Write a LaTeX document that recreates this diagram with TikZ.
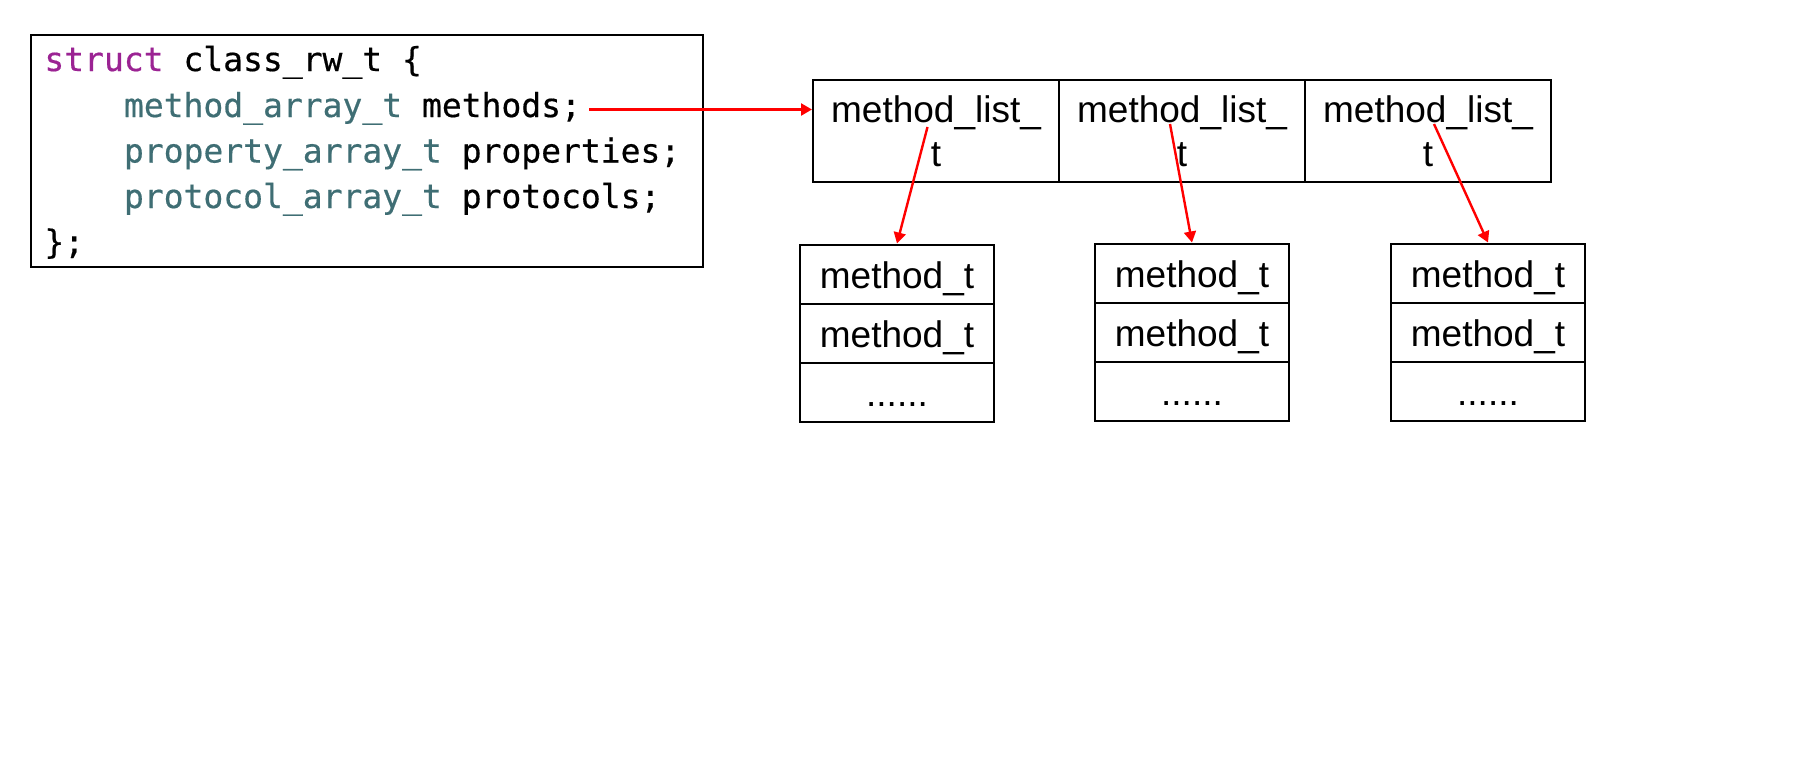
\documentclass[tikz,border=0pt]{standalone}
\usepackage{fontspec}
\setmainfont{Liberation Sans}
\newfontfamily\codefont[FakeBold=0.5]{DejaVu Sans Mono}
\usetikzlibrary{arrows.meta}
\definecolor{kwpurple}{RGB}{155,35,147}
\definecolor{typeteal}{RGB}{63,110,116}
\definecolor{arrowred}{RGB}{255,0,0}
\tikzset{
  codeline/.style={anchor=base west, inner sep=0pt, font=\codefont\fontsize{16.5}{20}\selectfont},
  codebox/.style={draw, line width=1pt, minimum width=336pt, minimum height=116pt, inner sep=0pt},
  listcell/.style={draw, line width=1pt, minimum width=123pt, minimum height=51.25pt, align=center, inner sep=0pt, font=\fontsize{18.5}{22}\selectfont},
  itemcell/.style={draw, line width=1pt, minimum width=97pt, minimum height=29.5pt, inner sep=0pt, text height=16pt, text depth=1.5pt, font=\fontsize{18.5}{21.5}\selectfont},
  redarrow/.style={draw=arrowred, line width=1.2pt, -{Triangle[length=5.5pt,width=6pt]}}
}
\begin{document}
\begin{tikzpicture}[x=0.5pt,y=-0.5pt]
\useasboundingbox (0,0) rectangle (1806,776);
% code box
\node[codebox] (code) at (367,151) {};
\node[codeline] (l1) at (44,71) {\textcolor{kwpurple}{struct} class\_rw\_t \{};
\node[codeline] (l2) at (123.6,117) {\textcolor{typeteal}{method\_array\_t} methods;};
\node[codeline] (l3) at (123.6,162.5) {\textcolor{typeteal}{property\_array\_t} properties;};
\node[codeline] (l4) at (123.6,208) {\textcolor{typeteal}{protocol\_array\_t} protocols;};
\node[codeline] (l5) at (44,253.5) {\};};
% method list cells
\node[listcell] (ml1) at (936,131) {method\_list\_\\t};
\node[listcell] (ml2) at (1182,131) {method\_list\_\\t};
\node[listcell] (ml3) at (1428,131) {method\_list\_\\t};
% method_t columns
\node[itemcell] (m1a) at (897,274) {method\_t};
\node[itemcell] (m1b) at (897,333) {method\_t};
\node[itemcell] (m1c) at (897,392) {......};
\node[itemcell] (m2a) at (1192,273) {method\_t};
\node[itemcell] (m2b) at (1192,332) {method\_t};
\node[itemcell] (m2c) at (1192,391) {......};
\node[itemcell] (m3a) at (1488,273) {method\_t};
\node[itemcell] (m3b) at (1488,332) {method\_t};
\node[itemcell] (m3c) at (1488,391) {......};
% arrows
\coordinate (s0) at ([shift={(4pt,3.75pt)}]l2.base east);
\draw[redarrow] (s0) -- (s0 -| ml1.west);
\draw[redarrow] ([shift={(-4.25pt,2pt)}]ml1.center) -- (m1a.north);
\draw[redarrow] ([shift={(-6pt,3.5pt)}]ml2.center) -- (m2a.north);
\draw[redarrow] ([shift={(3pt,3.5pt)}]ml3.center) -- (m3a.north);
\end{tikzpicture}
\end{document}
